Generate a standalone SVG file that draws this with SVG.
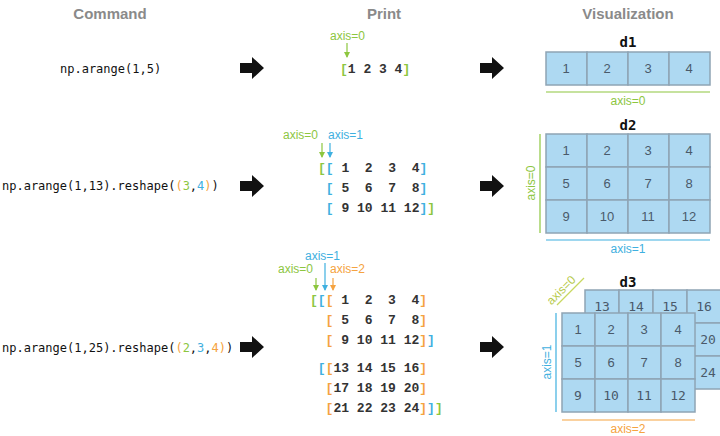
<svg xmlns="http://www.w3.org/2000/svg" width="720" height="436" viewBox="0 0 720 436">
<style>
.h{font:bold 15px "Liberation Sans",Arial,sans-serif;fill:#8a8a8a;text-anchor:middle}
.cmd{font:12px "DejaVu Sans Mono",monospace;fill:#111}
.p{font:bold 13px "Liberation Mono",monospace;fill:#333;white-space:pre}
.ax{font:12px "Liberation Sans",Arial,sans-serif}
.g{fill:#8dc63f}.b{fill:#3fb0e0}.o{fill:#f5a340}
.cell{fill:#aed9f2;stroke:#8ea4b4;stroke-width:1.5}
.n{font:13px "Liberation Sans",Arial,sans-serif;fill:#4a5a6a;text-anchor:middle}
.nm{font:13px "DejaVu Sans Mono",monospace;fill:#4a5a6a;text-anchor:middle}
.d{font:bold 14px "DejaVu Sans Mono",monospace;fill:#111;text-anchor:middle}
.big{fill:#111}
</style>
<defs>
<marker id="ah" viewBox="0 0 6 6" refX="5" refY="3" markerWidth="5" markerHeight="5" orient="auto"><path d="M0,0 L6,3 L0,6z" fill="context-stroke"/></marker>
<path id="bigarrow" d="M0,-5 H12 V-11 L24,0 L12,11 V5 H0 Z"/>
</defs>
<text class="h" x="110" y="19">Command</text>
<text class="h" x="384" y="19">Print</text>
<text class="h" x="628" y="19">Visualization</text>

<g id="connectors">
<use href="#bigarrow" class="big" x="240" y="68"/>
<use href="#bigarrow" class="big" x="480" y="68"/>
<use href="#bigarrow" class="big" x="240" y="186"/>
<use href="#bigarrow" class="big" x="480" y="186"/>
<use href="#bigarrow" class="big" x="240" y="347"/>
<use href="#bigarrow" class="big" x="480" y="347"/>
</g>

<g id="row1">
<text class="cmd" x="60" y="73">np.arange(1,5)</text>
<text class="ax g" x="330" y="40">axis=0</text>
<line x1="347" y1="43" x2="347" y2="57" stroke="#8dc63f" stroke-width="1.2" marker-end="url(#ah)"/>
<text class="p" x="340" y="73"><tspan class="g">[</tspan>1 2 3 4<tspan class="g">]</tspan></text>
<text class="d" x="628" y="47">d1</text>
<g><rect class="cell" x="546" y="52" width="41" height="33"/><rect class="cell" x="587" y="52" width="41" height="33"/><rect class="cell" x="628" y="52" width="41" height="33"/><rect class="cell" x="669" y="52" width="41" height="33"/>
<text class="n" x="566" y="73">1</text><text class="n" x="607" y="73">2</text><text class="n" x="648" y="73">3</text><text class="n" x="689" y="73">4</text></g>
<line x1="546" y1="92" x2="710" y2="92" stroke="#8dc63f" stroke-width="1.2"/>
<text class="ax g" x="628" y="105" text-anchor="middle">axis=0</text>
</g>

<g id="row2">
<text class="cmd" x="2" y="190">np.arange(1,13).reshape(<tspan class="o">(</tspan><tspan class="g">3</tspan>,<tspan class="b">4</tspan><tspan class="o">)</tspan>)</text>
<text class="ax g" x="283" y="139">axis=0</text>
<text class="ax b" x="328" y="139">axis=1</text>
<line x1="322" y1="143" x2="322" y2="157" stroke="#8dc63f" stroke-width="1.2" marker-end="url(#ah)"/>
<line x1="330" y1="143" x2="330" y2="157" stroke="#3fb0e0" stroke-width="1.2" marker-end="url(#ah)"/>
<text class="p" x="318" y="172"><tspan class="g">[</tspan><tspan class="b">[</tspan> 1  2  3  4<tspan class="b">]</tspan></text>
<text class="p" x="318" y="192"> <tspan class="b">[</tspan> 5  6  7  8<tspan class="b">]</tspan></text>
<text class="p" x="318" y="212"> <tspan class="b">[</tspan> 9 10 11 12<tspan class="b">]</tspan><tspan class="g">]</tspan></text>
<text class="d" x="628" y="130">d2</text>
<g>
<rect class="cell" x="546" y="134" width="41" height="33"/><rect class="cell" x="587" y="134" width="41" height="33"/><rect class="cell" x="628" y="134" width="41" height="33"/><rect class="cell" x="669" y="134" width="41" height="33"/>
<rect class="cell" x="546" y="167" width="41" height="33"/><rect class="cell" x="587" y="167" width="41" height="33"/><rect class="cell" x="628" y="167" width="41" height="33"/><rect class="cell" x="669" y="167" width="41" height="33"/>
<rect class="cell" x="546" y="200" width="41" height="33"/><rect class="cell" x="587" y="200" width="41" height="33"/><rect class="cell" x="628" y="200" width="41" height="33"/><rect class="cell" x="669" y="200" width="41" height="33"/>
<text class="n" x="566" y="155">1</text><text class="n" x="607" y="155">2</text><text class="n" x="648" y="155">3</text><text class="n" x="689" y="155">4</text>
<text class="n" x="566" y="188">5</text><text class="n" x="607" y="188">6</text><text class="n" x="648" y="188">7</text><text class="n" x="689" y="188">8</text>
<text class="n" x="566" y="221">9</text><text class="n" x="607" y="221">10</text><text class="n" x="648" y="221">11</text><text class="n" x="689" y="221">12</text>
</g>
<line x1="540" y1="134" x2="540" y2="233" stroke="#8dc63f" stroke-width="1.2"/>
<text class="ax g" transform="translate(535,183) rotate(-90)" text-anchor="middle">axis=0</text>
<line x1="546" y1="240" x2="710" y2="240" stroke="#3fb0e0" stroke-width="1.2"/>
<text class="ax b" x="628" y="253" text-anchor="middle">axis=1</text>
</g>

<g id="row3">
<text class="cmd" x="2" y="352">np.arange(1,25).reshape(<tspan class="o">(</tspan><tspan class="g">2</tspan>,<tspan class="b">3</tspan>,<tspan class="o">4</tspan><tspan class="o">)</tspan>)</text>
<text class="ax b" x="305" y="260">axis=1</text>
<text class="ax g" x="278" y="273">axis=0</text>
<text class="ax o" x="330" y="273">axis=2</text>
<line x1="325" y1="263" x2="325" y2="290" stroke="#3fb0e0" stroke-width="1.2" marker-end="url(#ah)"/>
<line x1="316" y1="278" x2="316" y2="290" stroke="#8dc63f" stroke-width="1.2" marker-end="url(#ah)"/>
<line x1="333" y1="278" x2="333" y2="290" stroke="#f5a340" stroke-width="1.2" marker-end="url(#ah)"/>
<text class="p" x="310" y="304"><tspan class="g">[</tspan><tspan class="b">[</tspan><tspan class="o">[</tspan> 1  2  3  4<tspan class="o">]</tspan></text>
<text class="p" x="310" y="324">  <tspan class="o">[</tspan> 5  6  7  8<tspan class="o">]</tspan></text>
<text class="p" x="310" y="344">  <tspan class="o">[</tspan> 9 10 11 12<tspan class="o">]</tspan><tspan class="b">]</tspan></text>
<text class="p" x="310" y="372"> <tspan class="b">[</tspan><tspan class="o">[</tspan>13 14 15 16<tspan class="o">]</tspan></text>
<text class="p" x="310" y="392">  <tspan class="o">[</tspan>17 18 19 20<tspan class="o">]</tspan></text>
<text class="p" x="310" y="412">  <tspan class="o">[</tspan>21 22 23 24<tspan class="o">]</tspan><tspan class="b">]</tspan><tspan class="g">]</tspan></text>
<text class="d" x="628" y="287">d3</text>
<g id="back">
<rect class="cell" x="585" y="290" width="34" height="33"/><rect class="cell" x="619" y="290" width="34" height="33"/><rect class="cell" x="653" y="290" width="34" height="33"/><rect class="cell" x="687" y="290" width="34" height="33"/>
<rect class="cell" x="687" y="323" width="34" height="33"/><rect class="cell" x="687" y="356" width="34" height="33"/>
<text class="nm" x="602" y="311">13</text><text class="nm" x="636" y="311">14</text><text class="nm" x="670" y="311">15</text><text class="nm" x="704" y="311">16</text>
<text class="nm" x="708" y="344">20</text><text class="nm" x="708" y="377">24</text>
</g>
<g id="front">
<rect class="cell" x="562" y="313" width="33" height="33"/><rect class="cell" x="595" y="313" width="33" height="33"/><rect class="cell" x="628" y="313" width="33" height="33"/><rect class="cell" x="661" y="313" width="34" height="33"/>
<rect class="cell" x="562" y="346" width="33" height="33"/><rect class="cell" x="595" y="346" width="33" height="33"/><rect class="cell" x="628" y="346" width="33" height="33"/><rect class="cell" x="661" y="346" width="34" height="33"/>
<rect class="cell" x="562" y="379" width="33" height="33"/><rect class="cell" x="595" y="379" width="33" height="33"/><rect class="cell" x="628" y="379" width="33" height="33"/><rect class="cell" x="661" y="379" width="34" height="33"/>
<text class="n" x="578" y="334">1</text><text class="n" x="611" y="334">2</text><text class="n" x="644" y="334">3</text><text class="n" x="678" y="334">4</text>
<text class="n" x="578" y="367">5</text><text class="n" x="611" y="367">6</text><text class="n" x="644" y="367">7</text><text class="n" x="678" y="367">8</text>
<text class="nm" x="578" y="400">9</text><text class="nm" x="611" y="400">10</text><text class="nm" x="644" y="400">11</text><text class="nm" x="678" y="400">12</text>
</g>
<line x1="557" y1="305" x2="584" y2="278" stroke="#c8d860" stroke-width="1.2"/>
<text class="ax" fill="#b5c94a" transform="translate(564,293) rotate(-45)" text-anchor="middle">axis=0</text>
<line x1="556" y1="313" x2="556" y2="412" stroke="#3fb0e0" stroke-width="1.2"/>
<text class="ax b" transform="translate(551,362) rotate(-90)" text-anchor="middle">axis=1</text>
<line x1="562" y1="420" x2="695" y2="420" stroke="#f5a340" stroke-width="1.2"/>
<text class="ax o" x="628" y="433" text-anchor="middle">axis=2</text>
</g>
</svg>
